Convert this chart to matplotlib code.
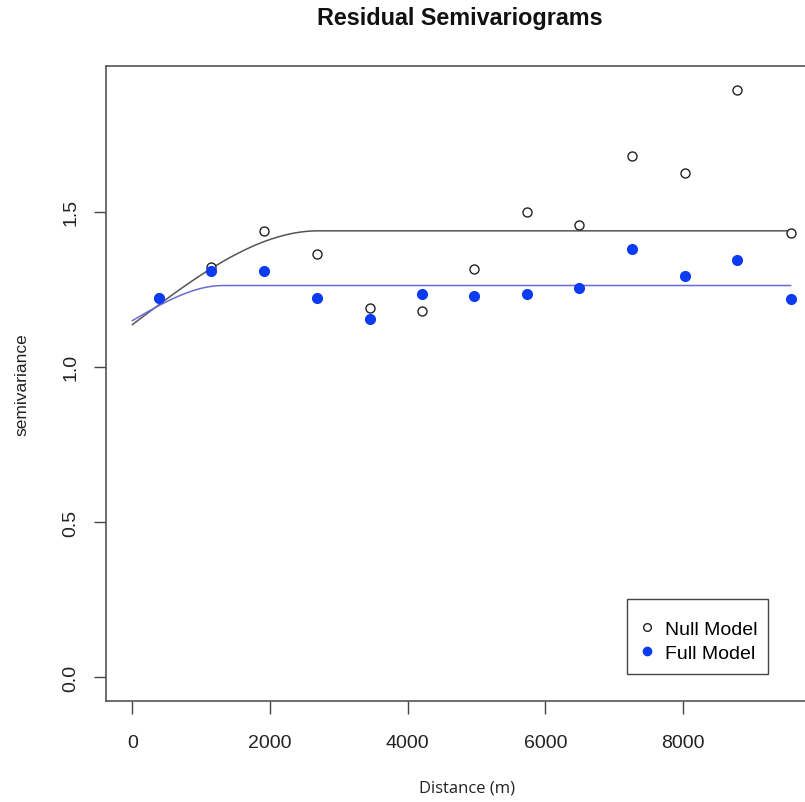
import numpy as np
import matplotlib.pyplot as plt
from matplotlib.patches import Rectangle

# lag distances (m) and empirical semivariances
lag_dist = [391, 1145, 1913, 2681, 3449, 4203, 4971, 5739, 6493, 7261, 8029, 8783, 9565]
null_gamma = [1.223, 1.320, 1.439, 1.365, 1.191, 1.181, 1.316, 1.500, 1.458, 1.680, 1.625, 1.893, 1.432]
full_gamma = [1.223, 1.310, 1.310, 1.223, 1.155, 1.236, 1.229, 1.236, 1.255, 1.381, 1.294, 1.345, 1.220]

# fitted spherical models: nugget, sill, range
null_fit = (1.136, 1.438, 2700)
full_fit = (1.149, 1.262, 1320)


def spherical(h, nugget, sill, rng):
    r = np.clip(h / rng, 0, 1)
    return nugget + (sill - nugget) * (1.5 * r - 0.5 * r ** 3)


plt.rcParams['font.family'] = ['Liberation Sans', 'DejaVu Sans']

fig = plt.figure(figsize=(8.05, 8.03), dpi=100)
ax = fig.add_axes([106 / 805, 1 - 702 / 803, (817 - 106) / 805, (702 - 67) / 803])

h = np.linspace(0, max(lag_dist), 400)
ax.plot(h, spherical(h, *null_fit), color='#555555', lw=1.1)
ax.plot(h, spherical(h, *full_fit), color='#6b6bd6', lw=1.1)

ax.plot(lag_dist, null_gamma, 'o', mfc='white', mec='#222222', mew=1.0, ms=6.5,
        ls='none', label='Null Model')
ax.plot(lag_dist, full_gamma, 'o', color='#0b3bf2', ms=7, ls='none', label='Full Model')

xmax = max(lag_dist)
ymax = max(null_gamma)
ax.set_xlim(-0.04 * xmax, 1.04 * xmax)
ax.set_ylim(-0.04 * ymax, 1.04 * ymax)

ax.set_xticks([0, 2000, 4000, 6000, 8000])
ax.set_yticks([0.0, 0.5, 1.0, 1.5])
ax.set_yticklabels(['0.0', '0.5', '1.0', '1.5'], rotation=90, va='center')
ax.tick_params(direction='out', length=9, width=1, colors='#444444', labelsize=14,
               labelcolor='#222222', pad=10)
ax.tick_params(axis='x', pad=15)

for s in ax.spines.values():
    s.set_color('#555555')
    s.set_linewidth(1.2)

ax.set_ylabel('semivariance', fontsize=12.5, color='#222222', labelpad=24)
fig.text(467 / 805, 1 - 789 / 803, 'Distance (m)', fontsize=12, family=['Open Sans', 'DejaVu Sans'],
         ha='center', va='center', color='#222222')
fig.text(460 / 805, 1 - 19 / 803, 'Residual Semivariograms', fontsize=16.8, fontweight='bold',
         ha='center', va='center', color='#111111')

# legend box drawn separately to match R's padding
ax.add_patch(Rectangle((627 / 805, 1 - 675 / 803), (768 - 627) / 805, 75 / 803,
                       transform=fig.transFigure, facecolor='white', edgecolor='#444444',
                       lw=1.0, zorder=4, clip_on=False))
leg = ax.legend(loc='center left', bbox_to_anchor=(640 / 805, 1 - 642 / 803),
                bbox_transform=fig.transFigure, borderaxespad=0, borderpad=0, frameon=False,
                fontsize=14, handlelength=0.7, handletextpad=0.6,
                labelspacing=0.3, markerscale=0.85)
leg.set_zorder(6)

fig.savefig('out.png', dpi=100)
